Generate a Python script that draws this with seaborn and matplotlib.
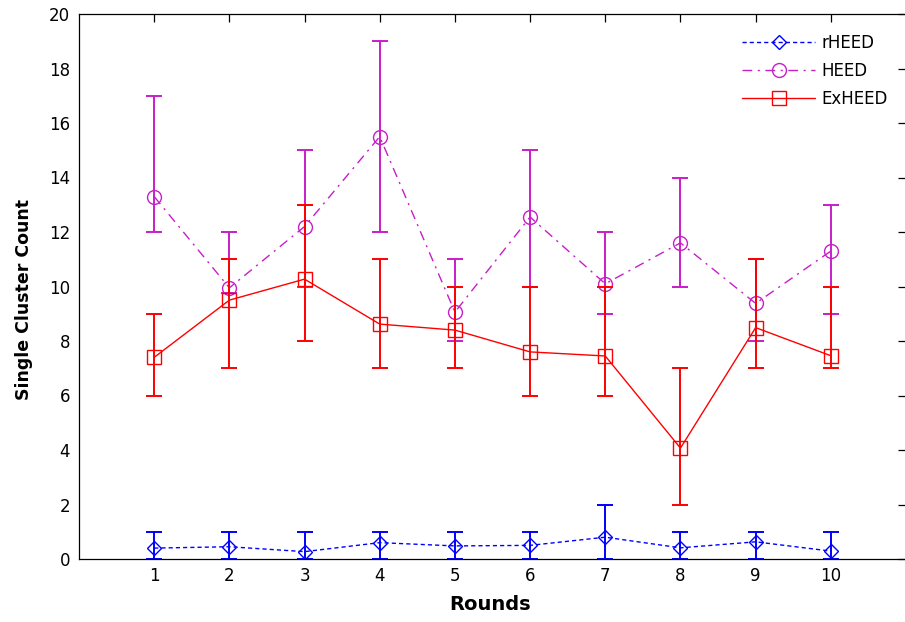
import numpy as np
import pandas as pd
import matplotlib
matplotlib.use("Agg")
import matplotlib.pyplot as plt
import seaborn as sns

# ---- data ----
rounds = [1, 2, 3, 4, 5, 6, 7, 8, 9, 10]

rheed = [0.40, 0.45, 0.27, 0.60, 0.48, 0.50, 0.80, 0.41, 0.63, 0.29]
rheed_lo = [0, 0, 0, 0, 0, 0, 0, 0, 0, 0]
rheed_hi = [1, 1, 1, 1, 1, 1, 2, 1, 1, 1]

heed = [13.3, 9.95, 12.2, 15.5, 9.06, 12.55, 10.1, 11.6, 9.38, 11.3]
heed_lo = [12, 9.75, 10, 12, 8, 10, 9, 10, 8, 9]
heed_hi = [17, 12, 15, 19, 11, 15, 12, 14, 11, 13]

exheed = [7.40, 9.50, 10.27, 8.62, 8.40, 7.60, 7.45, 4.07, 8.49, 7.46]
exheed_lo = [6, 7, 8, 7, 7, 6, 6, 2, 7, 7]
exheed_hi = [9, 11, 13, 11, 10, 10, 10, 7, 11, 10]

series_names = ["rHEED", "HEED", "ExHEED"]
x_label = "Rounds"
y_label = "Single Cluster Count"

# ---- style ----
sns.set_theme(style="white")
plt.rcParams["font.family"] = ["DejaVu Sans"]
plt.rcParams["axes.edgecolor"] = "black"
plt.rcParams["axes.linewidth"] = 0.9
plt.rcParams["axes.labelcolor"] = "black"
plt.rcParams["text.color"] = "black"

fig = plt.figure(figsize=(9.05, 6.22), dpi=100)
W, H = 905, 622
ax = fig.add_axes([79 / W, 1 - 559 / H, (906 - 79) / W, (559 - 14) / H])

specs = [
    (rheed, rheed_lo, rheed_hi, "#0000FF", "D", 7.6, (0, (3.0, 2.2))),
    (heed, heed_lo, heed_hi, "#C81EC8", "o", 10.0, (0, (7.0, 4.0, 1.5, 4.0))),
    (exheed, exheed_lo, exheed_hi, "#FF0000", "s", 10.5, "-"),
]

for name, (vals, lo, hi, col, mk, ms, ls) in zip(series_names, specs):
    v = np.array(vals, dtype=float)
    yerr = [v - np.array(lo, dtype=float), np.array(hi, dtype=float) - v]
    ax.errorbar(rounds, v, yerr=yerr, fmt="none", ecolor=col,
                elinewidth=1.4, capsize=6, capthick=1.4)
    df = pd.DataFrame({"Rounds": rounds, "Value": v})
    sns.lineplot(data=df, x="Rounds", y="Value", ax=ax, color=col,
                 linestyle=ls, linewidth=1.0, marker=mk, markersize=ms,
                 markerfacecolor="none", markeredgecolor=col,
                 markeredgewidth=1.0, label=name)

ax.set_xlim(0, 11)
ax.set_ylim(0, 20)
ax.set_xticks(rounds)
ax.set_yticks(np.arange(0, 21, 2))
ax.tick_params(direction="in", length=5.5, width=0.9, top=True, right=True,
               labelsize=12, colors="black")
ax.tick_params(axis="x", pad=5.5)
ax.tick_params(axis="y", pad=6.5)

ax.set_xlabel(x_label, fontsize=14, fontweight="bold", color="black")
ax.set_ylabel(y_label, fontsize=12.5, fontweight="bold", color="black")
ax.xaxis.set_label_coords((490 - 79) / 827, (559 - 595) / 545)
ax.yaxis.set_label_coords((33 - 79) / 827, (559 - 300) / 545)

leg = ax.legend(loc="upper left", bbox_to_anchor=(742 / W, 1 - 34 / H),
                bbox_transform=fig.transFigure, frameon=False, fontsize=12,
                handlelength=4.4, handletextpad=0.35, labelspacing=0.6,
                borderpad=0, borderaxespad=0, numpoints=1)
for t in leg.get_texts():
    t.set_color("black")

fig.savefig("out.png", dpi=100)
